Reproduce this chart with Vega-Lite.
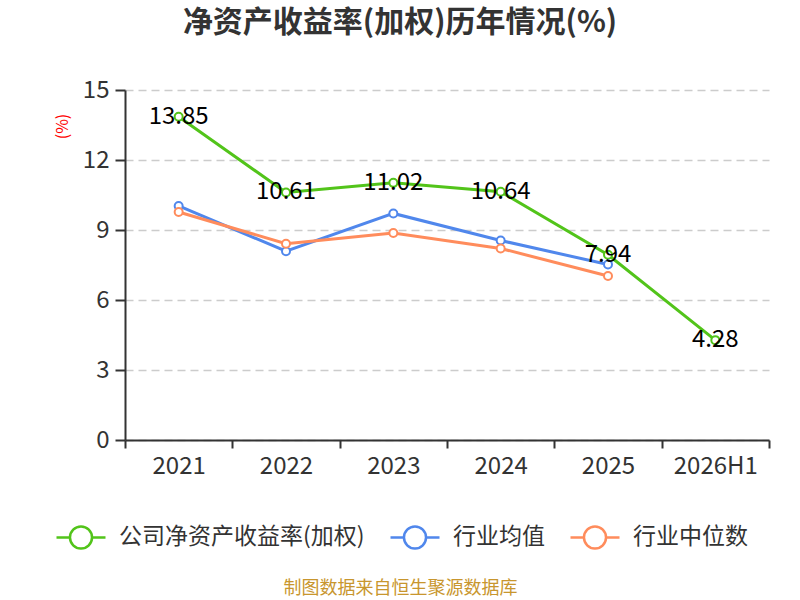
{
  "$schema": "https://vega.github.io/schema/vega-lite/v6.json",
  "width": 644,
  "height": 350,
  "autosize": {"type": "none"},
  "padding": {"left": 125, "top": 90, "right": 31, "bottom": 160},
  "config": {
    "font": "Noto Sans CJK SC",
    "view": {"stroke": null}
  },
  "title": {
    "text": "净资产收益率(加权)历年情况(%)",
    "fontSize": 30,
    "fontWeight": "bold",
    "color": "#333333",
    "anchor": "middle",
    "dx": -47,
    "offset": 40
  },
  "data": {
    "values": [
      {"year": "2021", "series": "公司净资产收益率(加权)", "value": 13.85},
      {"year": "2022", "series": "公司净资产收益率(加权)", "value": 10.61},
      {"year": "2023", "series": "公司净资产收益率(加权)", "value": 11.02},
      {"year": "2024", "series": "公司净资产收益率(加权)", "value": 10.64},
      {"year": "2025", "series": "公司净资产收益率(加权)", "value": 7.94},
      {"year": "2026H1", "series": "公司净资产收益率(加权)", "value": 4.28},
      {"year": "2021", "series": "行业均值", "value": 10.03},
      {"year": "2022", "series": "行业均值", "value": 8.09},
      {"year": "2023", "series": "行业均值", "value": 9.71},
      {"year": "2024", "series": "行业均值", "value": 8.55},
      {"year": "2025", "series": "行业均值", "value": 7.52},
      {"year": "2021", "series": "行业中位数", "value": 9.77},
      {"year": "2022", "series": "行业中位数", "value": 8.41},
      {"year": "2023", "series": "行业中位数", "value": 8.87},
      {"year": "2024", "series": "行业中位数", "value": 8.21},
      {"year": "2025", "series": "行业中位数", "value": 7.03}
    ]
  },
  "encoding": {
    "x": {
      "field": "year",
      "type": "nominal",
      "sort": null,
      "scale": {"type": "band", "paddingInner": 0, "paddingOuter": 0},
      "axis": {
        "title": "制图数据来自恒生聚源数据库",
        "titleColor": "#C8962E",
        "titleFontSize": 18,
        "titleFontWeight": "normal",
        "titleX": 275,
        "titleY": 148,
        "titleAlign": "center",
        "titleBaseline": "middle",
        "labelAngle": 0,
        "labelFontSize": 24,
        "labelColor": "#333333",
        "labelPadding": 6,
        "tickBand": "extent",
        "tickSize": 8,
        "tickWidth": 2,
        "tickColor": "#333333",
        "domainColor": "#333333",
        "domainWidth": 2,
        "grid": false
      }
    },
    "y": {
      "field": "value",
      "type": "quantitative",
      "scale": {"domain": [0, 15], "nice": false},
      "axis": {
        "title": "(%)",
        "titleColor": "#FF0000",
        "titleFontSize": 16,
        "titleFontWeight": "normal",
        "titleX": -63,
        "titleY": 36,
        "titleAlign": "center",
        "titleBaseline": "middle",
        "titleAngle": -90,
        "values": [0, 3, 6, 9, 12, 15],
        "labelFontSize": 24,
        "labelColor": "#333333",
        "labelPadding": 6,
        "tickSize": 10,
        "tickWidth": 2,
        "tickColor": "#333333",
        "domainColor": "#333333",
        "domainWidth": 2,
        "grid": true,
        "gridColor": "#cccccc",
        "gridDash": [8, 5],
        "gridWidth": 1.5
      }
    },
    "color": {
      "field": "series",
      "type": "nominal",
      "sort": null,
      "scale": {
        "domain": ["公司净资产收益率(加权)", "行业均值", "行业中位数"],
        "range": ["#52C41A", "#5087EC", "#FF8C5C"]
      },
      "legend": {
        "title": null,
        "orient": "none",
        "direction": "horizontal",
        "legendX": -70,
        "legendY": 421,
        "symbolType": "M-1,0L-0.45,0M0.45,0L1,0M-0.45,0A0.45,0.45,0,1,1,0.45,0A0.45,0.45,0,1,1,-0.45,0Z",
        "symbolSize": 2401,
        "symbolStrokeWidth": 2.5,
        "symbolFillColor": "white",
        "labelFontSize": 23,
        "labelColor": "#333333",
        "labelOffset": 12,
        "columnPadding": 20,
        "labelLimit": 400
      }
    }
  },
  "layer": [
    {
      "mark": {"type": "line", "strokeWidth": 3}
    },
    {
      "mark": {"type": "point", "shape": "circle", "filled": false, "fill": "white", "fillOpacity": 1, "opacity": 1, "size": 64, "strokeWidth": 2}
    },
    {
      "transform": [{"filter": "datum.series === '公司净资产收益率(加权)'"}],
      "mark": {"type": "text", "fontSize": 24, "color": "#000000", "align": "center", "baseline": "middle"},
      "encoding": {
        "text": {"field": "value", "type": "quantitative", "format": ".2f"},
        "color": {"value": "#000000"}
      }
    }
  ]
}
